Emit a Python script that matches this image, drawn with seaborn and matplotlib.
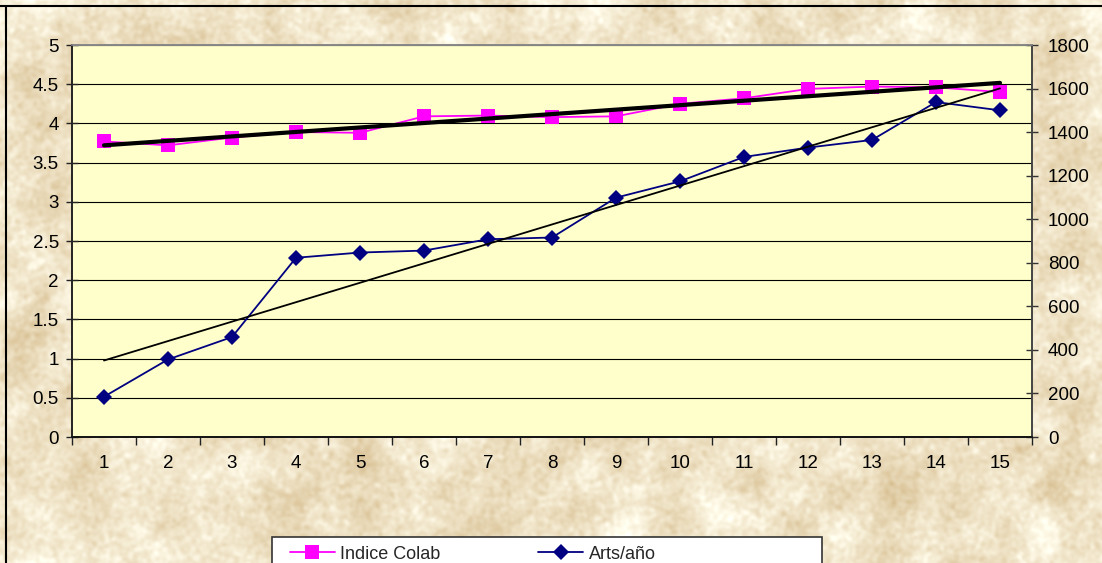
import numpy as np
import pandas as pd
import matplotlib
matplotlib.use("Agg")
import matplotlib.pyplot as plt
from matplotlib.lines import Line2D
from matplotlib.patches import Rectangle
from matplotlib.ticker import FixedLocator, NullFormatter
import seaborn as sns

# --- data -------------------------------------------------------------
periods = list(range(1, 16))
indice_colab = [3.77, 3.72, 3.82, 3.89, 3.88, 4.09, 4.10, 4.08,
                4.09, 4.25, 4.32, 4.44, 4.47, 4.46, 4.40]
arts_por_anio = [185, 356, 459, 823, 847, 856, 908, 916,
                 1099, 1174, 1286, 1329, 1364, 1538, 1500]
left_ticks = [0, 0.5, 1, 1.5, 2, 2.5, 3, 3.5, 4, 4.5, 5]
right_ticks = [0, 200, 400, 600, 800, 1000, 1200, 1400, 1600, 1800]

df = pd.DataFrame({"periodo": periods,
                   "Indice Colab": indice_colab,
                   "Arts/año": arts_por_anio})

sns.set_theme(style="white")
plt.rcParams["font.family"] = ["Liberation Sans", "DejaVu Sans"]

W, H = 1102, 563
fig = plt.figure(figsize=(W / 100, H / 100), dpi=100)

# parchment backdrop
bg = fig.add_axes([0, 0, 1, 1], zorder=-10)
rng = np.random.default_rng(7)
noise = rng.normal(size=(H, W))
fy = np.fft.fftfreq(H)[:, None]
fx = np.fft.fftfreq(W)[None, :]
r = np.sqrt(fx ** 2 + fy ** 2)
spec = np.fft.fft2(noise)
soft = np.real(np.fft.ifft2(spec * np.exp(-(r / 0.015) ** 2)))
fine = np.real(np.fft.ifft2(spec * np.exp(-(r / 0.12) ** 2)))
soft = soft / soft.std()
fine = fine / fine.std()
tex = 0.45 * soft + 0.35 * fine
base = np.array([240, 228, 200]) / 255.0
dark = np.array([-10, -15, -22]) / 255.0
img = np.clip(base[None, None, :] + tex[..., None] * dark[None, None, :], 0, 1)
bg.imshow(img, aspect="auto", extent=[0, 1, 0, 1], interpolation="bilinear")
bg.set_axis_off()

# chart frame (top and left edges)
fig.add_artist(Line2D([0, 1], [1 - 6 / H, 1 - 6 / H], color="black", lw=1.5,
                      transform=fig.transFigure))
fig.add_artist(Line2D([6 / W, 6 / W], [0, 1 - 6 / H], color="black", lw=1.5,
                      transform=fig.transFigure))

# plot area
x0, x1 = 72 / W, 1032 / W
y0, y1 = 1 - 437 / H, 1 - 45 / H
ax = fig.add_axes([x0, y0, x1 - x0, y1 - y0])
ax.set_facecolor("#FFFFCC")
ax2 = ax.twinx()
ax2.patch.set_visible(False)

pink = "#FF00FF"
navy = "#000080"

sns.lineplot(data=df, x="periodo", y="Indice Colab", ax=ax, color=pink,
             lw=1.3, marker="s", markersize=9.5, markeredgecolor=pink,
             markeredgewidth=0, zorder=3)
sns.regplot(data=df, x="periodo", y="Indice Colab", ax=ax, scatter=False,
            ci=None, line_kws={"color": "black", "lw": 3.0, "zorder": 4})

sns.lineplot(data=df, x="periodo", y="Arts/año", ax=ax2, color=navy,
             lw=1.3, marker="D", markersize=8, markeredgecolor=navy,
             markeredgewidth=0, zorder=3)
sns.regplot(data=df, x="periodo", y="Arts/año", ax=ax2, scatter=False,
            ci=None, line_kws={"color": "black", "lw": 1.3, "zorder": 4})

# axes limits and ticks
ax.set_xlim(0.5, 15.5)
ax.set_ylim(0, 5)
ax2.set_ylim(0, 1800)
ax.set_yticks(left_ticks)
ax.set_yticklabels([f"{t:g}" for t in left_ticks])
ax2.set_yticks(right_ticks)
ax2.set_yticklabels([str(t) for t in right_ticks])
ax.set_xticks(periods)
ax.set_xticklabels([str(p) for p in periods])
ax.xaxis.set_minor_locator(FixedLocator(np.arange(0.5, 15.6, 1.0)))
ax.xaxis.set_minor_formatter(NullFormatter())

ax.grid(axis="y", color="black", lw=0.8)
ax.grid(axis="x", visible=False)
ax2.grid(False)
ax.set_axisbelow(True)

fs = 13.5
ax.tick_params(axis="x", which="major", length=0, pad=13, labelsize=fs,
               labelcolor="black")
ax.tick_params(axis="x", which="minor", bottom=True, length=6, width=1,
               color="#222222", direction="out")
ax.tick_params(axis="y", left=True, length=9, width=1, direction="inout",
               color="#222222", pad=5, labelsize=fs, labelcolor="black")
ax2.tick_params(axis="y", right=True, length=9, width=1, direction="inout",
                color="#333333", pad=7, labelsize=fs, labelcolor="black")

ax.set_xlabel("")
ax.set_ylabel("")
ax2.set_ylabel("")

for a in (ax, ax2):
    a.spines["left"].set_color("#222222")
    a.spines["bottom"].set_color("#111111")
    a.spines["right"].set_color("#444444")
    a.spines["top"].set_color("#888888")
    for s in a.spines.values():
        s.set_linewidth(1.2)

# legend box at the bottom, running off the lower edge
lx0, lx1 = 272 / W, 822 / W
ly_top = 1 - 537 / H
fig.add_artist(Rectangle((lx0, -0.05), lx1 - lx0, ly_top + 0.05,
                         transform=fig.transFigure, facecolor="white",
                         edgecolor="#333333", lw=1.2, zorder=5))
handles = [
    Line2D([], [], color=pink, lw=1.3, marker="s", markersize=9.5,
           markeredgewidth=0),
    Line2D([], [], color=navy, lw=1.3, marker="D", markersize=8,
           markeredgewidth=0),
]
leg = fig.legend(handles, ["Indice Colab", "Arts/año"], ncol=2,
                 loc="upper left", bbox_to_anchor=(277 / W, 1 - 533 / H),
                 frameon=False, fontsize=13, handlelength=2.5,
                 handletextpad=0.3, columnspacing=5.4, borderpad=0.2)
leg.set_zorder(6)

fig.savefig("out.png", dpi=100)
